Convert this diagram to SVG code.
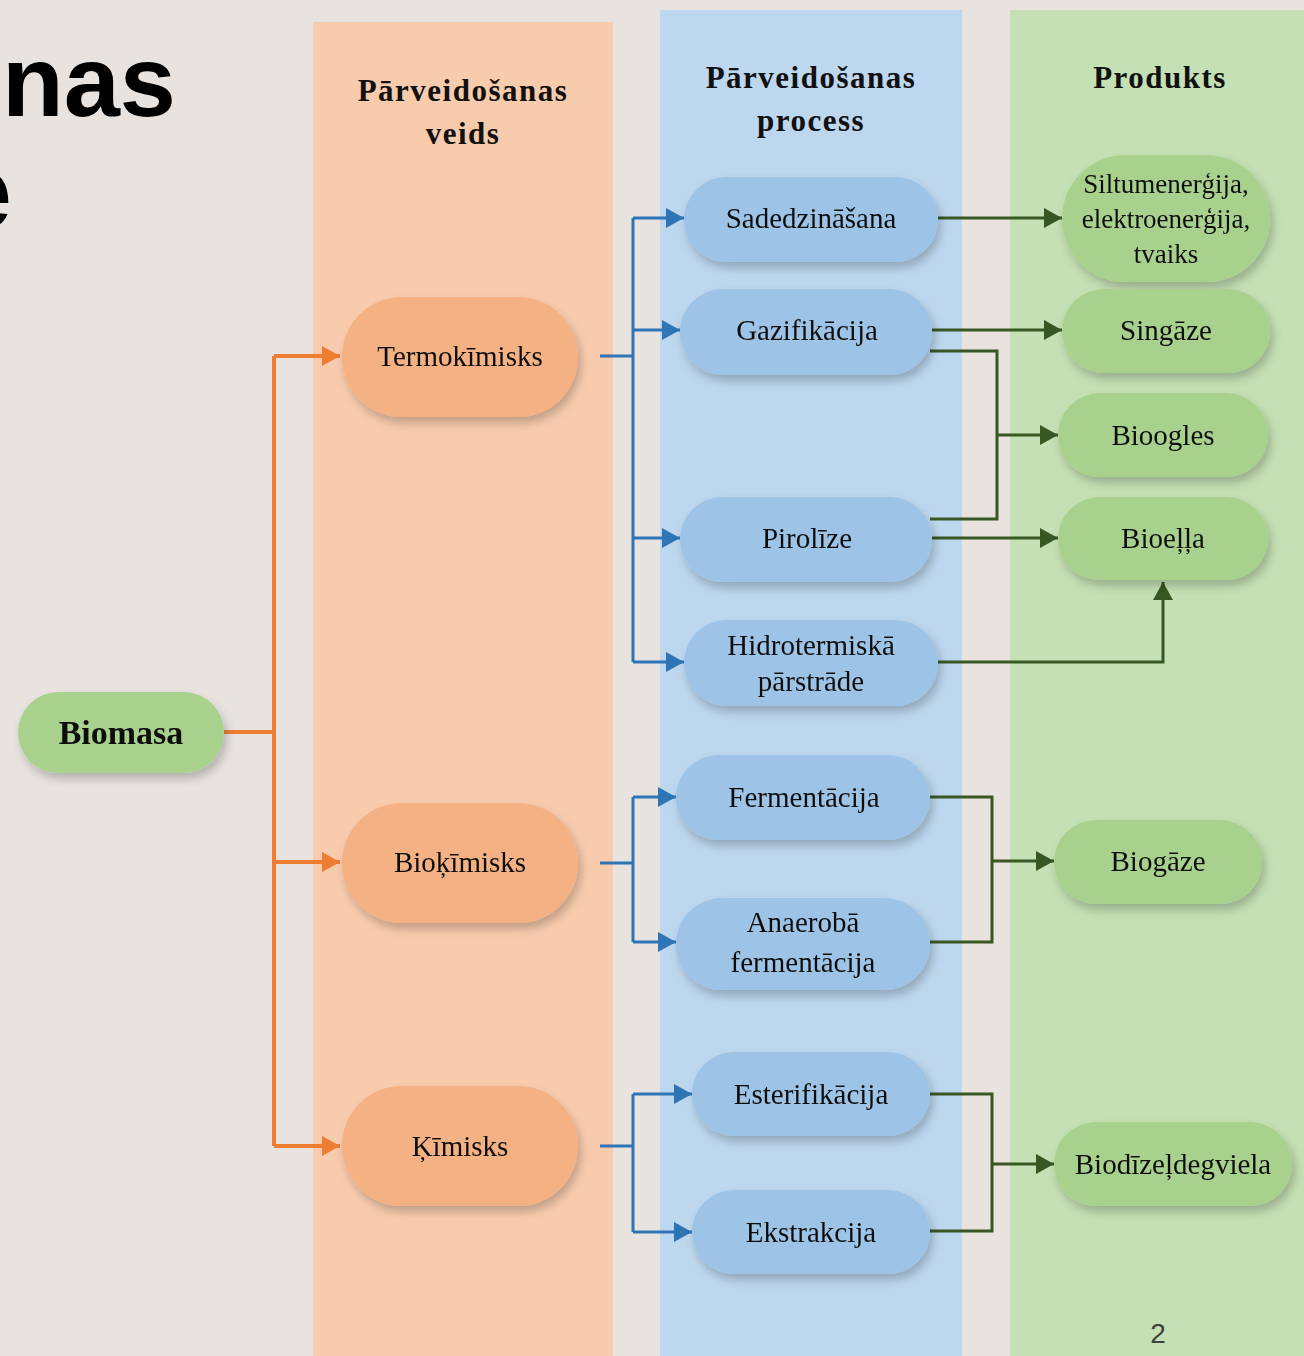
<svg xmlns="http://www.w3.org/2000/svg" width="1304" height="1356" viewBox="0 0 1304 1356">
<style>
.t{font-family:"Liberation Serif","Times New Roman",serif;font-size:29px;fill:#111;text-anchor:middle}
.s{font-size:27px}
.b{font-size:34px;font-weight:bold}
.h{font-family:"Liberation Serif","Times New Roman",serif;font-size:31px;font-weight:bold;fill:#111;text-anchor:middle;letter-spacing:1.5px}
.or{fill:#f4b183}
.bl{fill:#9dc3e6}
.gr{fill:#a9d18e}
.co{fill:none;stroke:#ed7d31;stroke-width:4}
.cb{fill:none;stroke:#2e75b6;stroke-width:3}
.cg{fill:none;stroke:#385723;stroke-width:3}
</style>
<defs>
<filter id="sh" x="-20%" y="-30%" width="140%" height="170%">
<feDropShadow dx="3" dy="6" stdDeviation="5" flood-color="#000" flood-opacity="0.22"/>
</filter>
<marker id="ao" markerUnits="userSpaceOnUse" markerWidth="20" markerHeight="22" refX="18" refY="11" orient="auto"><path d="M0,1 L18,11 L0,21 Z" fill="#ed7d31"/></marker>
<marker id="ab" markerUnits="userSpaceOnUse" markerWidth="20" markerHeight="22" refX="18" refY="11" orient="auto"><path d="M0,1 L18,11 L0,21 Z" fill="#2e75b6"/></marker>
<marker id="ag" markerUnits="userSpaceOnUse" markerWidth="20" markerHeight="22" refX="18" refY="11" orient="auto"><path d="M0,1 L18,11 L0,21 Z" fill="#385723"/></marker>
</defs>
<rect width="1304" height="1356" fill="#e8e3df"/>
<g id="title" font-family="'Liberation Sans',Arial,sans-serif" font-weight="bold" font-size="101" fill="#000">
<text x="176" y="116" text-anchor="end">nas</text>
<text x="12" y="228" text-anchor="end" font-size="106">e</text>
</g>
<g id="lanes">
<rect x="313" y="22" width="300" height="1334" fill="#f8cbad"/>
<rect x="660" y="10" width="302" height="1346" fill="#bdd7ee"/>
<rect x="1010" y="10" width="294" height="1346" fill="#c5e0b4"/>
</g>
<g id="headers">
<text class="h" x="463" y="101">Pārveidošanas</text>
<text class="h" x="463" y="144">veids</text>
<text class="h" x="811" y="88">Pārveidošanas</text>
<text class="h" x="811" y="131">process</text>
<text class="h" x="1160" y="88">Produkts</text>
</g>
<g id="connectors">
<path class="co" d="M224,732 H274 M274,356 V1146"/>
<path class="co" d="M274,356 H340" marker-end="url(#ao)"/>
<path class="co" d="M274,862 H340" marker-end="url(#ao)"/>
<path class="co" d="M274,1146 H340" marker-end="url(#ao)"/>
<path class="cb" d="M600,356 H633 M633,218 V662"/>
<path class="cb" d="M633,218 H684" marker-end="url(#ab)"/>
<path class="cb" d="M633,330 H680" marker-end="url(#ab)"/>
<path class="cb" d="M633,538 H680" marker-end="url(#ab)"/>
<path class="cb" d="M633,662 H684" marker-end="url(#ab)"/>
<path class="cb" d="M600,863 H633 M633,797 V942"/>
<path class="cb" d="M633,797 H676" marker-end="url(#ab)"/>
<path class="cb" d="M633,942 H676" marker-end="url(#ab)"/>
<path class="cb" d="M600,1146 H633 M633,1094 V1232"/>
<path class="cb" d="M633,1094 H692" marker-end="url(#ab)"/>
<path class="cb" d="M633,1232 H692" marker-end="url(#ab)"/>
<path class="cg" d="M938,218 H1062" marker-end="url(#ag)"/>
<path class="cg" d="M932,330 H1062" marker-end="url(#ag)"/>
<path class="cg" d="M930,351 H997 V519 H930"/>
<path class="cg" d="M997,435 H1058" marker-end="url(#ag)"/>
<path class="cg" d="M932,538 H1058" marker-end="url(#ag)"/>
<path class="cg" d="M938,662 H1163 V582" marker-end="url(#ag)"/>
<path class="cg" d="M930,797 H992 V942 H930"/>
<path class="cg" d="M992,861 H1054" marker-end="url(#ag)"/>
<path class="cg" d="M930,1094 H992 V1231 H930"/>
<path class="cg" d="M992,1164 H1054" marker-end="url(#ag)"/>
</g>
<g id="biomasa" filter="url(#sh)"><rect class="gr" x="18" y="692" width="206" height="81" rx="40.5"/><text class="t b" x="121" y="744">Biomasa</text></g>
<g id="termokimisks" filter="url(#sh)"><rect class="or" x="342" y="297" width="236" height="120" rx="60"/><text class="t" x="460" y="366">Termokīmisks</text></g>
<g id="biokimisks" filter="url(#sh)"><rect class="or" x="342" y="803" width="236" height="120" rx="60"/><text class="t" x="460" y="872">Bioķīmisks</text></g>
<g id="kimisks" filter="url(#sh)"><rect class="or" x="342" y="1086" width="236" height="120" rx="60"/><text class="t" x="460" y="1156">Ķīmisks</text></g>
<g id="sadedzinasana" filter="url(#sh)"><rect class="bl" x="684" y="177" width="254" height="85" rx="42.5"/><text class="t" x="811" y="228">Sadedzināšana</text></g>
<g id="gazifikacija" filter="url(#sh)"><rect class="bl" x="680" y="289" width="252" height="86" rx="43"/><text class="t" x="807" y="340">Gazifikācija</text></g>
<g id="pirolize" filter="url(#sh)"><rect class="bl" x="680" y="497" width="252" height="85" rx="42.5"/><text class="t" x="807" y="548">Pirolīze</text></g>
<g id="hidrotermiska" filter="url(#sh)"><rect class="bl" x="684" y="620" width="254" height="86" rx="43"/><text class="t" x="811" y="655">Hidrotermiskā</text><text class="t" x="811" y="691">pārstrāde</text></g>
<g id="fermentacija" filter="url(#sh)"><rect class="bl" x="676" y="755" width="254" height="85" rx="42.5"/><text class="t" x="804" y="807">Fermentācija</text></g>
<g id="anaeroba" filter="url(#sh)"><rect class="bl" x="676" y="898" width="254" height="92" rx="46"/><text class="t" x="803" y="932">Anaerobā</text><text class="t" x="803" y="972">fermentācija</text></g>
<g id="esterifikacija" filter="url(#sh)"><rect class="bl" x="692" y="1052" width="238" height="84" rx="42"/><text class="t" x="811" y="1104">Esterifikācija</text></g>
<g id="ekstrakcija" filter="url(#sh)"><rect class="bl" x="692" y="1190" width="238" height="84" rx="42"/><text class="t" x="811" y="1242">Ekstrakcija</text></g>
<g id="siltumenergija" filter="url(#sh)"><rect class="gr" x="1062" y="155" width="208" height="127" rx="63.5"/><text class="t s" x="1166" y="193">Siltumenerģija,</text><text class="t s" x="1166" y="228">elektroenerģija,</text><text class="t s" x="1166" y="263">tvaiks</text></g>
<g id="singaze" filter="url(#sh)"><rect class="gr" x="1062" y="289" width="208" height="84" rx="42"/><text class="t" x="1166" y="340">Singāze</text></g>
<g id="bioogles" filter="url(#sh)"><rect class="gr" x="1058" y="393" width="210" height="84" rx="42"/><text class="t" x="1163" y="445">Bioogles</text></g>
<g id="bioella" filter="url(#sh)"><rect class="gr" x="1058" y="497" width="210" height="83" rx="41.5"/><text class="t" x="1163" y="548">Bioeļļa</text></g>
<g id="biogaze" filter="url(#sh)"><rect class="gr" x="1054" y="820" width="208" height="84" rx="42"/><text class="t" x="1158" y="871">Biogāze</text></g>
<g id="biodizeldegviela" filter="url(#sh)"><rect class="gr" x="1054" y="1122" width="238" height="84" rx="42"/><text class="t" x="1173" y="1174">Biodīzeļdegviela</text></g>
<text x="1158" y="1343" font-family="'Liberation Sans',Arial,sans-serif" font-size="28" fill="#404040" text-anchor="middle">2</text>
</svg>
